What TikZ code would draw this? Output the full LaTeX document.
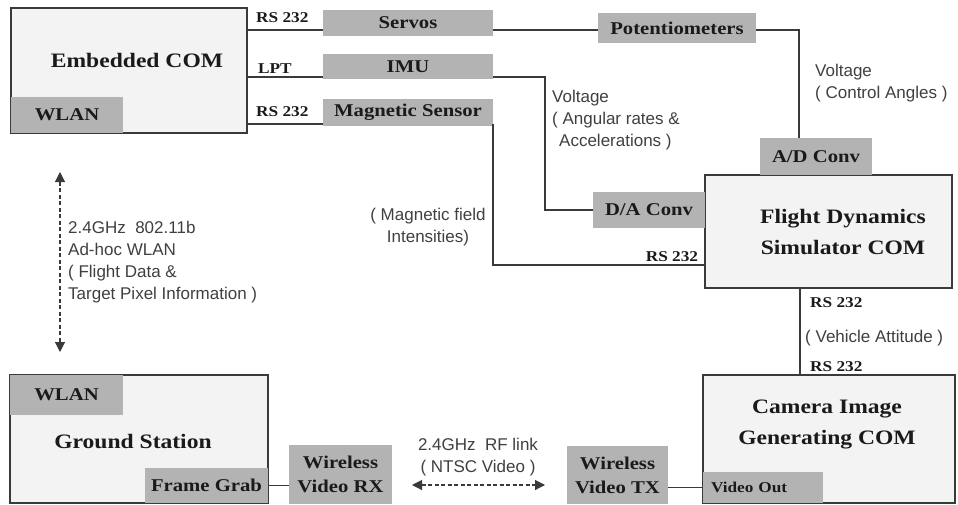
\documentclass[tikz,border=0pt]{standalone}
\usepackage{fontspec}
\setmainfont{Liberation Serif}
\newfontfamily\lbl{Liberation Serif}[FakeStretch=1.15]
\newfontfamily\desc{Liberation Sans}
\usetikzlibrary{arrows.meta}
\definecolor{edge}{HTML}{3A3A3A}
\definecolor{boxfill}{HTML}{F3F3F3}
\definecolor{shade}{HTML}{B3B3B3}
\definecolor{ink}{HTML}{1A1A1A}
\definecolor{descink}{HTML}{404040}
\begin{document}
\begin{tikzpicture}[x=1pt,y=-1pt,
 bigbox/.style={draw=edge, line width=1.3pt, fill=boxfill, inner sep=0pt, outer sep=0pt},
 tag/.style={fill=shade, inner sep=0pt, outer sep=0pt, text=ink, font=\lbl\bfseries\fontsize{18}{24}\selectfont, align=center},
 title/.style={text=ink, font=\lbl\bfseries\fontsize{20.5}{31}\selectfont, align=center, inner sep=0pt},
 port/.style={text=ink, font=\lbl\bfseries\fontsize{15}{17}\selectfont, inner sep=0pt},
 note/.style={text=descink, font=\desc\fontsize{17}{22}\selectfont, inner sep=0pt},
 wire/.style={draw=edge, line width=1.2pt},
 link/.style={draw=edge, line width=1.1pt, dash pattern=on 4pt off 2.5pt, {Triangle[length=10pt,width=10pt]}-{Triangle[length=10pt,width=10pt]}}
]
\fill[white] (0,0) rectangle (958,504);
\useasboundingbox (0,0) rectangle (958,504);

% big boxes
\node[bigbox, minimum width=236pt, minimum height=125pt] (emb) at (129,70.5) {};
\node[bigbox, minimum width=247pt, minimum height=113pt] (fd) at (828.5,231.5) {};
\node[bigbox, minimum width=252pt, minimum height=128pt] (cam) at (829,439) {};
\node[bigbox, minimum width=258pt, minimum height=128pt] (gs) at (139,439) {};

% shaded tags
\node[tag, minimum width=112pt, minimum height=36pt] (embwlan) at (67,115) {WLAN};
\node[tag, minimum width=170pt, minimum height=26pt] (servos) at (408,23) {Servos};
\node[tag, minimum width=170pt, minimum height=25pt] (imu) at (408,66.5) {IMU};
\node[tag, minimum width=170pt, minimum height=27pt] (mag) at (408,112.5) {Magnetic Sensor};
\node[tag, minimum width=158pt, minimum height=30pt] (pot) at (677,28) {Potentiometers};
\node[tag, minimum width=112pt, minimum height=37pt] (ad) at (816,156.5) {A/D Conv};
\node[tag, minimum width=112pt, minimum height=36pt] (da) at (649,210) {D/A Conv};
\node[tag, minimum width=113pt, minimum height=40pt] (gswlan) at (66.5,395) {WLAN};
\node[tag, minimum width=123pt, minimum height=35pt] (fgrab) at (206.5,485.5) {Frame Grab};
\node[tag, minimum width=103pt, minimum height=59pt] (rx) at (340.5,474.5) {Wireless\\Video RX};
\node[tag, minimum width=101pt, minimum height=58pt] (tx) at (617.5,475) {Wireless\\Video TX};
\node[tag, font=\lbl\bfseries\fontsize{15}{18}\selectfont, text width=104pt, inner xsep=8pt, align=left, minimum height=31pt] (vout) at (763,487.5) {Video Out};

% titles
\node[title] (embt) at (137,60) {Embedded COM};
\node[title] (fdt) at (843,232.5) {Flight Dynamics\\Simulator COM};
\node[title] (camt) at (827,424) {Camera Image\\Generating COM};
\node[title] (gst) at (133,442) {Ground Station};

% port labels
\node[port, anchor=west] (p1) at (256,18) {RS 232};
\node[port, anchor=west] (p2) at (258,69) {LPT};
\node[port, anchor=west] (p3) at (256,112) {RS 232};
\node[port] (p4) at (672,257) {RS 232};
\node[port, anchor=west] (p5) at (810,303) {RS 232};
\node[port, anchor=west] (p6) at (810,367) {RS 232};

% notes
\node[note, anchor=west, align=left] (n1) at (815,83.5) {Voltage\\( Control Angles )};
\node[note, anchor=west, align=left] (n2) at (552,120) {Voltage\\( Angular rates \&\\\hspace*{7pt}Accelerations )};
\node[note, align=center] (n3) at (428,227.5) {( Magnetic field\\Intensities)};
\node[note, anchor=west] (n4) at (805,338) {( Vehicle Attitude )};
\node[note, anchor=west, align=left] (n5) at (68,262.5) {2.4GHz\ \ 802.11b\\Ad-hoc WLAN\\( Flight Data \&\\Target Pixel Information )};
\node[note, align=center] (n6) at (478,457.5) {2.4GHz\ \ RF link\\( NTSC Video )};

% connectors
\draw[wire] (emb.east |- 0,30) -- (servos.west |- 0,30);
\draw[wire] (servos.east |- 0,30) -- (pot.west |- 0,30);
\draw[wire] (pot.east |- 0,30) -| (ad.north -| 799,0);
\draw[wire] (emb.east |- 0,77) -- (imu.west |- 0,77);
\draw[wire] (imu.east |- 0,77) -| (da.west -| 545,0) -- (da.west);
\draw[wire] (emb.east |- 0,124) -- (mag.west |- 0,124);
\draw[wire] (mag.east |- 0,124) -- (mag.east |- 0,265) -- (fd.west |- 0,265);
\draw[wire] (fd.south -| 800,0) -- (cam.north -| 800,0);
\draw[wire] (fgrab.east) -- (rx.west |- fgrab.east);
\draw[wire] (tx.east |- vout.west) -- (vout.west);

\coordinate (wl1) at (60,172);
\coordinate (wl2) at (60,352);
\draw[link] (wl1) -- (wl2);
\coordinate (rf1) at (412,485);
\coordinate (rf2) at (545,485);
\draw[link] (rf1) -- (rf2);
\end{tikzpicture}
\end{document}
